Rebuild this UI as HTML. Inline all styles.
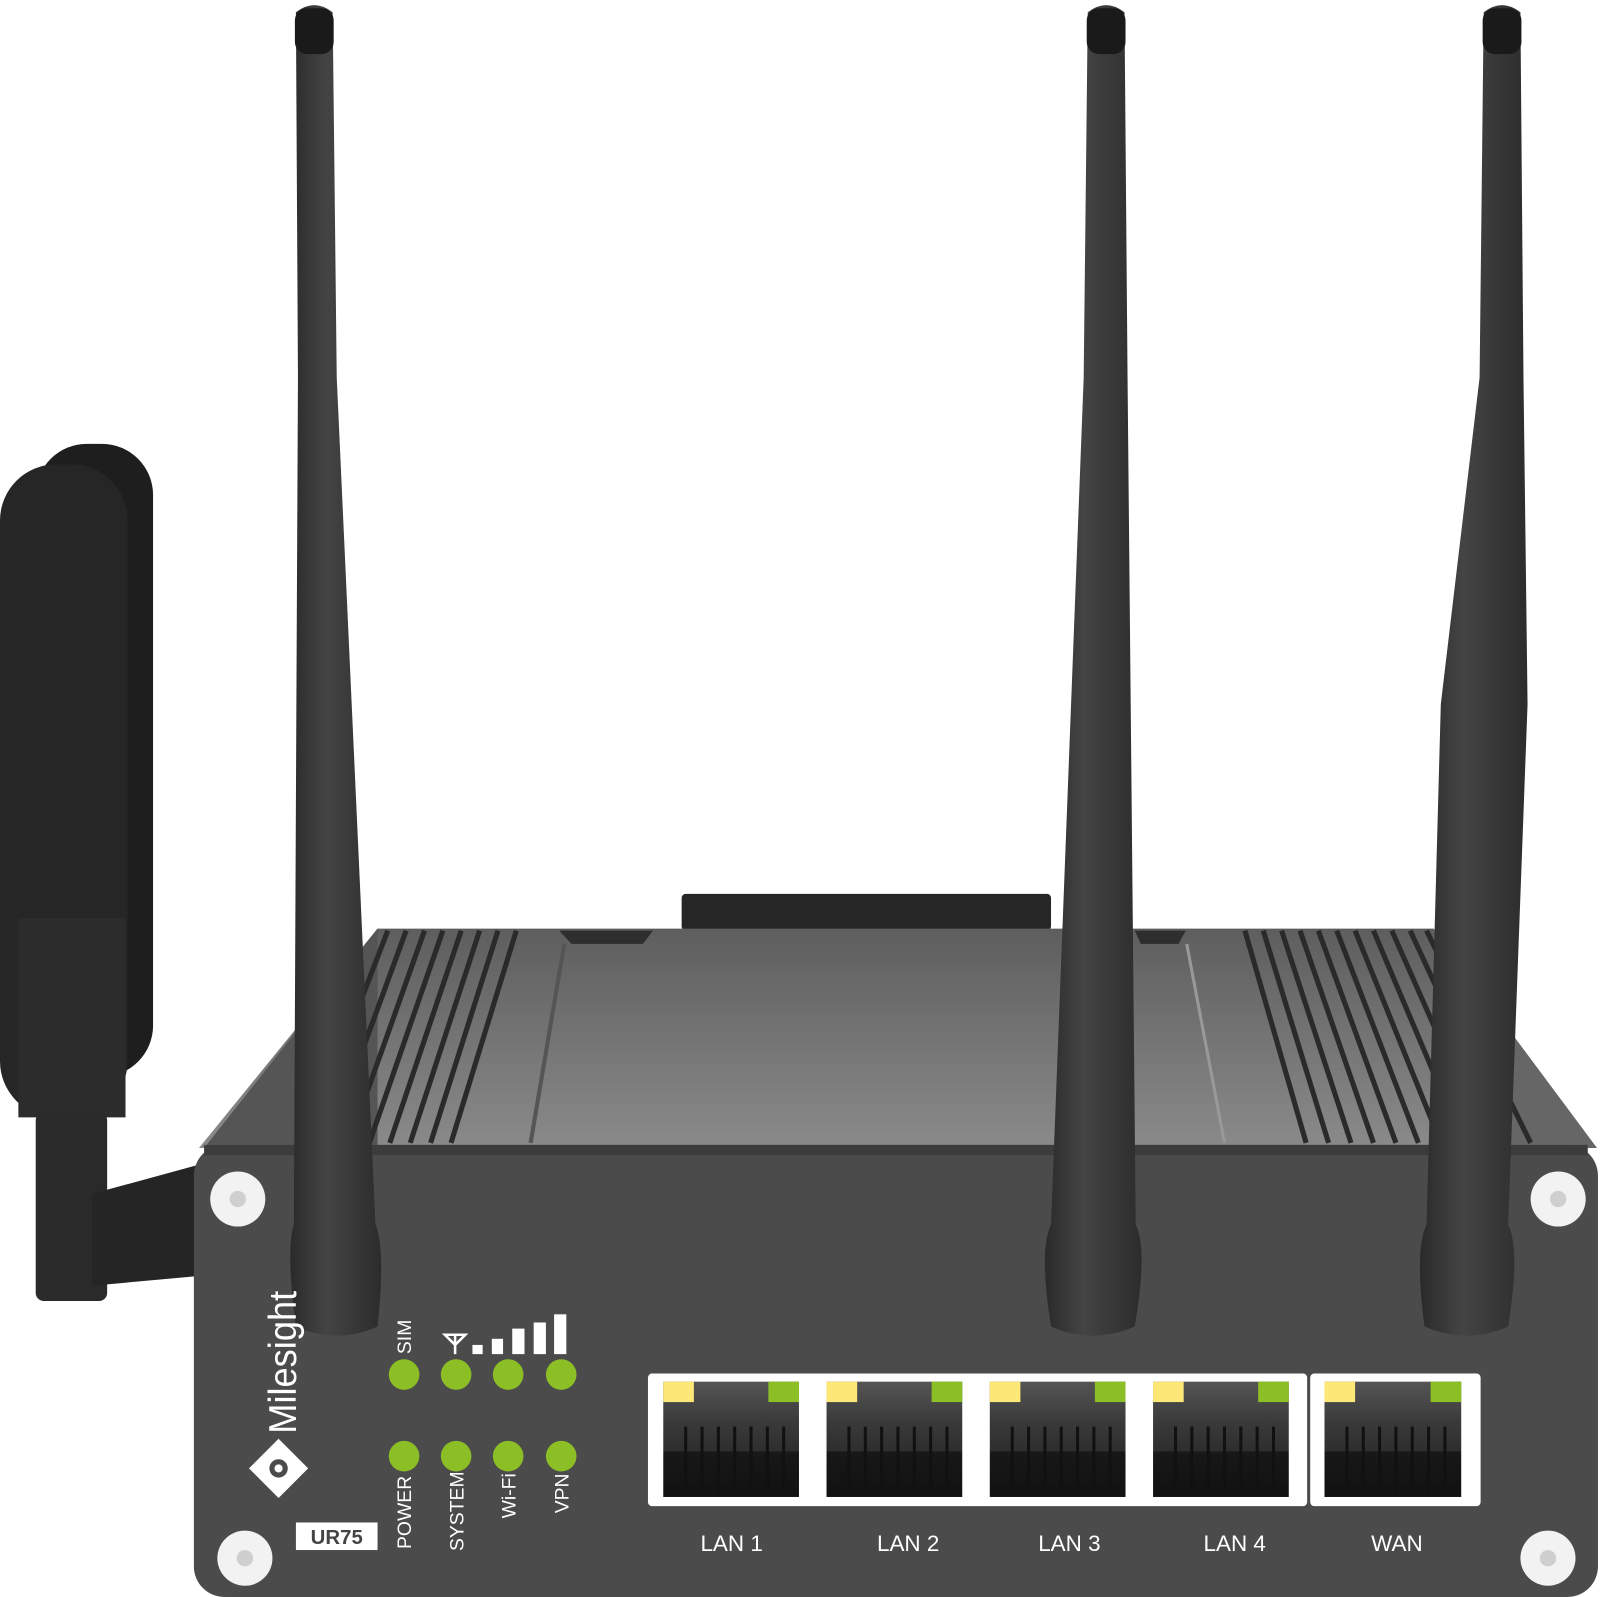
<!DOCTYPE html>
<html><head><meta charset="utf-8"><style>
html,body{margin:0;padding:0;background:#fff;width:1600px;height:1597px;overflow:hidden}
svg{display:block}
text{font-family:"Liberation Sans",Arial,sans-serif}
</style></head><body>
<svg width="1600" height="1597" viewBox="0 0 1568 1565" xmlns="http://www.w3.org/2000/svg">
<defs>
<linearGradient id="top" x1="0" y1="0" x2="0" y2="1"><stop offset="0" stop-color="#5e5e5e"/><stop offset="1" stop-color="#8a8a8a"/></linearGradient>
<linearGradient id="ant" x1="0" y1="0" x2="1" y2="0"><stop offset="0" stop-color="#2a2a2a"/><stop offset="0.4" stop-color="#444"/><stop offset="1" stop-color="#2c2c2c"/></linearGradient>
<linearGradient id="port" x1="0" y1="0" x2="0" y2="1"><stop offset="0" stop-color="#555"/><stop offset="0.35" stop-color="#3a3a3a"/><stop offset="0.6" stop-color="#2e2e2e"/><stop offset="0.61" stop-color="#181818"/><stop offset="1" stop-color="#111"/></linearGradient>
</defs>
<rect width="1568" height="1565" fill="#fff"/>
<!-- left paddle antenna -->
<rect x="35" y="435" width="115" height="620" rx="50" fill="#1e1e1e"/>
<rect x="0" y="455" width="125" height="640" rx="55" fill="#262626"/>
<rect x="18" y="900" width="105" height="195" fill="#2c2c2c"/>
<rect x="35" y="1090" width="70" height="185" rx="8" fill="#2a2a2a"/>
<path d="M90 1170 L200 1140 L200 1250 L90 1260 Z" fill="#252525"/>
<!-- top bar -->
<rect x="668" y="876" width="362" height="36" rx="4" fill="#262626"/>
<!-- body top -->
<path d="M370 910 L1405 910 L1565 1125 L195 1125 Z" fill="url(#top)"/>
<path d="M370 910 L200 1125 L370 1125 Z" fill="#555"/>
<path d="M1405 910 L1565 1125 L1405 1125 Z" fill="#666"/>
<g stroke="#2a2a2a" stroke-width="5">
<line x1="380" y1="912" x2="300" y2="1120"/><line x1="398" y1="912" x2="322" y2="1120"/><line x1="416" y1="912" x2="342" y2="1120"/><line x1="434" y1="912" x2="362" y2="1120"/><line x1="452" y1="912" x2="382" y2="1120"/><line x1="470" y1="912" x2="402" y2="1120"/><line x1="488" y1="912" x2="422" y2="1120"/><line x1="506" y1="912" x2="442" y2="1120"/>
<line x1="1220" y1="912" x2="1280" y2="1120"/><line x1="1238" y1="912" x2="1302" y2="1120"/><line x1="1256" y1="912" x2="1324" y2="1120"/><line x1="1274" y1="912" x2="1346" y2="1120"/><line x1="1292" y1="912" x2="1368" y2="1120"/><line x1="1310" y1="912" x2="1390" y2="1120"/><line x1="1328" y1="912" x2="1412" y2="1120"/><line x1="1346" y1="912" x2="1434" y2="1120"/><line x1="1364" y1="912" x2="1456" y2="1120"/><line x1="1382" y1="912" x2="1478" y2="1120"/><line x1="1398" y1="912" x2="1500" y2="1120"/>
</g>
<path d="M548 912 L640 912 L630 925 L560 925 Z" fill="#2e2e2e"/>
<path d="M1112 912 L1162 912 L1155 925 L1118 925 Z" fill="#2e2e2e"/>
<line x1="553" y1="925" x2="520" y2="1120" stroke="#555" stroke-width="4"/>
<line x1="1163" y1="925" x2="1200" y2="1120" stroke="#999" stroke-width="3"/>
<!-- front face -->
<rect x="190" y="1122" width="1376" height="443" rx="30" fill="#4b4b4b"/>
<rect x="200" y="1122" width="1356" height="10" fill="#3c3c3c"/>
<!-- screws -->
<g fill="#f2f2f2"><circle cx="233" cy="1175" r="27"/><circle cx="1527" cy="1175" r="27"/><circle cx="240" cy="1527" r="27"/><circle cx="1517" cy="1527" r="27"/></g>
<g fill="#cfcfcf"><circle cx="233" cy="1175" r="8"/><circle cx="1527" cy="1175" r="8"/><circle cx="240" cy="1527" r="8"/><circle cx="1517" cy="1527" r="8"/></g>
<!-- antennas -->
<path d="M290 12 Q308 -2 326 12 L330 370 L368 1200 Q378 1225 370 1300 Q330 1318 290 1300 Q280 1225 288 1200 L292 370 Z" fill="url(#ant)"/>
<path d="M1066 12 Q1084 -2 1102 12 L1105 370 L1113 1200 Q1125 1225 1112 1300 Q1070 1318 1030 1300 Q1018 1225 1030 1200 L1062 370 Z" fill="url(#ant)"/>
<path d="M1454 12 Q1472 -2 1490 12 L1493 370 L1497 690 L1478 1200 Q1490 1225 1478 1300 Q1438 1318 1396 1300 Q1386 1225 1398 1200 L1412 690 L1450 370 Z" fill="url(#ant)"/>
<g fill="#1a1a1a"><rect x="289" y="8" width="38" height="45" rx="12"/><rect x="1065" y="8" width="38" height="45" rx="12"/><rect x="1453" y="8" width="38" height="45" rx="12"/></g>
<!-- logo -->
<text transform="translate(290,1405) rotate(-90)" font-size="38" fill="#fff" textLength="140" lengthAdjust="spacingAndGlyphs">Milesight</text>
<path d="M273 1410 L302 1439 L273 1468 L244 1439 Z" fill="#fff"/>
<circle cx="273" cy="1439" r="9" fill="#4b4b4b"/><circle cx="273" cy="1439" r="4" fill="#fff"/>
<rect x="290" y="1492" width="80" height="27" fill="#fff"/>
<text x="330" y="1513" font-size="20" font-weight="bold" fill="#444" text-anchor="middle">UR75</text>
<!-- LEDs -->
<g fill="#8cbf26"><circle cx="396" cy="1347" r="15"/><circle cx="447" cy="1347" r="15"/><circle cx="498" cy="1347" r="15"/><circle cx="550" cy="1347" r="15"/><circle cx="396" cy="1427" r="15"/><circle cx="447" cy="1427" r="15"/><circle cx="498" cy="1427" r="15"/><circle cx="550" cy="1427" r="15"/></g>
<g fill="#fff" font-size="19">
<text transform="translate(403,1327) rotate(-90)">SIM</text>
<text transform="translate(403,1518) rotate(-90)">POWER</text>
<text transform="translate(454,1520) rotate(-90)">SYSTEM</text>
<text transform="translate(505,1488) rotate(-90)">Wi-Fi</text>
<text transform="translate(557,1483) rotate(-90)">VPN</text>
</g>
<g fill="#fff"><rect x="463" y="1318" width="10" height="9"/><rect x="482" y="1312" width="11" height="15"/><rect x="502" y="1302" width="12" height="25"/><rect x="523" y="1296" width="12" height="31"/><rect x="543" y="1288" width="12" height="39"/></g>
<path d="M436 1308 L456 1308 L446 1318 Z M446 1308 L446 1327" stroke="#fff" stroke-width="2.5" fill="none"/>
<!-- ports -->
<rect x="635" y="1346" width="646" height="130" rx="4" fill="#fff"/>
<rect x="1284" y="1346" width="167" height="130" rx="4" fill="#fff"/>
<g>
<rect x="650" y="1354" width="133" height="113" fill="url(#port)"/>
<rect x="810" y="1354" width="133" height="113" fill="url(#port)"/>
<rect x="970" y="1354" width="133" height="113" fill="url(#port)"/>
<rect x="1130" y="1354" width="133" height="113" fill="url(#port)"/>
<rect x="1298" y="1354" width="134" height="113" fill="url(#port)"/>
</g>
<g stroke="#111" stroke-width="3">
<path d="M672 1398v66M688 1398v66M704 1398v66M720 1398v66M736 1398v66M752 1398v66M768 1398v66"/>
<path d="M832 1398v66M848 1398v66M864 1398v66M880 1398v66M896 1398v66M912 1398v66M928 1398v66"/>
<path d="M992 1398v66M1008 1398v66M1024 1398v66M1040 1398v66M1056 1398v66M1072 1398v66M1088 1398v66"/>
<path d="M1152 1398v66M1168 1398v66M1184 1398v66M1200 1398v66M1216 1398v66M1232 1398v66M1248 1398v66"/>
<path d="M1320 1398v66M1336 1398v66M1352 1398v66M1368 1398v66M1384 1398v66M1400 1398v66M1416 1398v66"/>
</g>
<g fill="#fde777"><rect x="650" y="1354" width="30" height="20"/><rect x="810" y="1354" width="30" height="20"/><rect x="970" y="1354" width="30" height="20"/><rect x="1130" y="1354" width="30" height="20"/><rect x="1298" y="1354" width="30" height="20"/></g>
<g fill="#8cbf26"><rect x="753" y="1354" width="30" height="20"/><rect x="913" y="1354" width="30" height="20"/><rect x="1073" y="1354" width="30" height="20"/><rect x="1233" y="1354" width="30" height="20"/><rect x="1402" y="1354" width="30" height="20"/></g>
<g fill="#fff" font-size="22" text-anchor="middle">
<text x="717" y="1520">LAN 1</text><text x="890" y="1520">LAN 2</text><text x="1048" y="1520">LAN 3</text><text x="1210" y="1520">LAN 4</text><text x="1369" y="1520">WAN</text>
</g>
</svg>
</body></html>
